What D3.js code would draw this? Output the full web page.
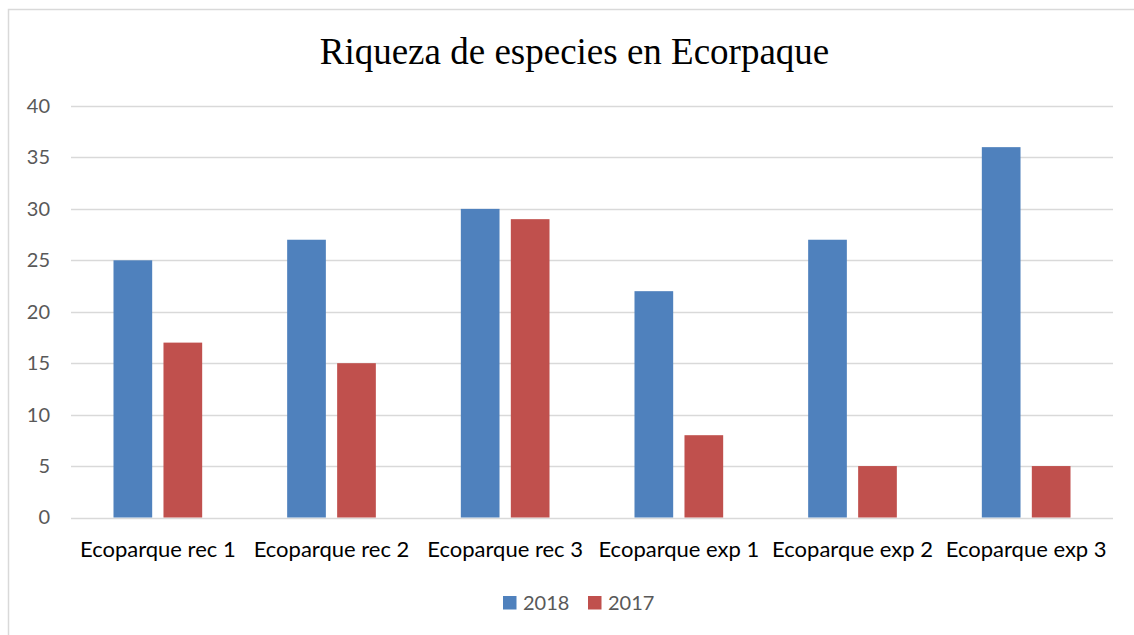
<!DOCTYPE html>
<html>
<head>
<meta charset="utf-8">
<script src="https://cdn.jsdelivr.net/npm/d3@7"></script>
<style>
  html, body { margin: 0; padding: 0; background: #fff; }
  svg { display: block; }
</style>
</head>
<body>
<div id="chart"></div>
<script>
// chart data
const categories = ['Ecoparque rec 1', 'Ecoparque rec 2', 'Ecoparque rec 3', 'Ecoparque exp 1', 'Ecoparque exp 2', 'Ecoparque exp 3'];
const seriesNames = ['2018', '2017'];
const values2018 = [25, 27, 30, 22, 27, 36];
const values2017 = [17, 15, 29, 8, 5, 5];
const yTicks = [0, 5, 10, 15, 20, 25, 30, 35, 40];
const title = 'Riqueza de especies en Ecorpaque';

const seriesValues = { '2018': values2018, '2017': values2017 };
const colors = { '2018': '#4F81BD', '2017': '#C0504D' };

const width = 1134;
const height = 635;
const margin = { top: 106, right: 21, bottom: 118, left: 71 };

const svg = d3.select('#chart')
  .append('svg')
  .attr('width', width)
  .attr('height', height);

// chart frame
svg.append('rect')
  .attr('x', 8.5)
  .attr('y', 9.5)
  .attr('width', width + 20)
  .attr('height', height + 20)
  .attr('fill', '#fff')
  .attr('stroke', '#D9D9D9')
  .attr('stroke-width', 1.5);

svg.append('text')
  .attr('x', 574.5)
  .attr('y', 64)
  .attr('text-anchor', 'middle')
  .style('font-family', '"Liberation Serif", "Times New Roman", serif')
  .style('font-size', '37px')
  .attr('fill', '#000')
  .text(title);

const x0 = d3.scaleBand()
  .domain(categories)
  .range([margin.left, width - margin.right])
  .padding(0);

const x1 = d3.scaleBand()
  .domain(seriesNames)
  .range([0, x0.bandwidth()])
  .paddingInner(0.226)
  .paddingOuter(0.85);

const y = d3.scaleLinear()
  .domain([0, 40])
  .range([height - margin.bottom + 0.5, margin.top]);

// gridlines
svg.append('g')
  .selectAll('line')
  .data(yTicks)
  .join('line')
  .attr('x1', margin.left)
  .attr('x2', width - margin.right)
  .attr('y1', d => Math.round(y(d)) + 0.5)
  .attr('y2', d => Math.round(y(d)) + 0.5)
  .attr('stroke', '#D9D9D9')
  .attr('stroke-width', 1.3);

// y axis labels
const yAxis = d3.axisLeft(y).tickValues(yTicks).tickSize(0).tickPadding(0);
const yAxisG = svg.append('g')
  .attr('transform', 'translate(50,0)')
  .call(yAxis);
yAxisG.select('.domain').remove();
yAxisG.selectAll('text')
  .style('font-family', 'Lato, "Open Sans", sans-serif')
  .style('font-size', '20px')
  .attr('fill', '#595959');

// bars
const groups = svg.append('g')
  .selectAll('g')
  .data(categories)
  .join('g')
  .attr('transform', d => `translate(${x0(d)},0)`);

groups.selectAll('rect')
  .data((d, i) => seriesNames.map(s => ({ key: s, value: seriesValues[s][i] })))
  .join('rect')
  .attr('x', d => x1(d.key))
  .attr('y', d => y(d.value))
  .attr('width', x1.bandwidth())
  .attr('height', d => y(0) - y(d.value))
  .attr('fill', d => colors[d.key]);

// x axis labels
const xAxis = d3.axisBottom(x0).tickSize(0).tickPadding(0);
const xAxisG = svg.append('g')
  .attr('transform', `translate(0,${y(0)})`)
  .call(xAxis);
xAxisG.select('.domain').remove();
xAxisG.selectAll('text')
  .attr('dy', null)
  .attr('y', 39)
  .style('font-family', 'Lato, "Open Sans", sans-serif')
  .style('font-size', '22px')
  .attr('fill', '#000');

// legend
const legendX = [503, 588];
const legend = svg.append('g')
  .selectAll('g')
  .data(seriesNames)
  .join('g')
  .attr('transform', (d, i) => `translate(${legendX[i]},596)`);

legend.append('rect')
  .attr('width', 13.5)
  .attr('height', 13.5)
  .attr('fill', d => colors[d]);

legend.append('text')
  .attr('x', 20)
  .attr('y', 13.5)
  .style('font-family', 'Lato, "Open Sans", sans-serif')
  .style('font-size', '20px')
  .attr('fill', '#595959')
  .text(d => d);
</script>
</body>
</html>
